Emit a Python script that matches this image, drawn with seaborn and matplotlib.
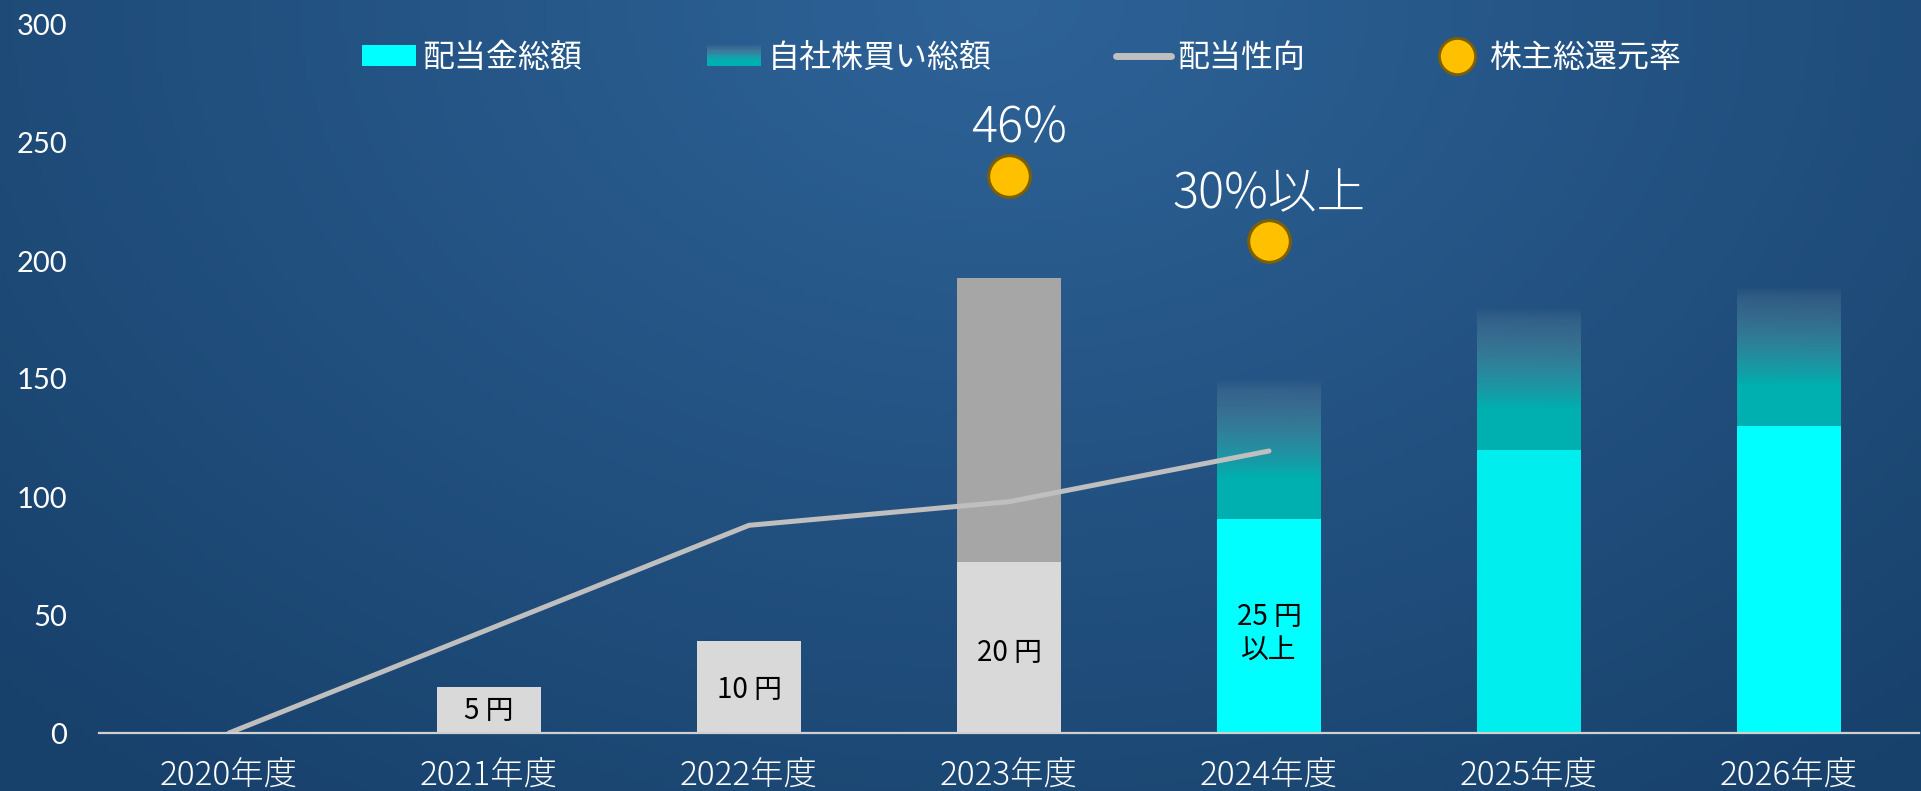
import numpy as np
import pandas as pd
import seaborn as sns
import matplotlib.pyplot as plt
from matplotlib.patches import Rectangle, Patch
from matplotlib.lines import Line2D
from matplotlib.legend_handler import HandlerBase
from matplotlib.colors import to_rgb

# Data
years = ['2020年度', '2021年度', '2022年度', '2023年度', '2024年度', '2025年度', '2026年度']
dividend_total = [0, 19.5, 39, 72.5, 90.5, 120, 130]
return_total = [0, 0, 0, 193, 149.5, 180, 188.5]
payout_ratio = [0, 44, 88, 98, 119.5]
total_return_rate = [236, 208.5]
total_return_labels = ['46%', '30%以上']
dividend_labels = ['', '5 円', '10 円', '20 円', '25 円\n以上', '', '']

div_colors = ['#D9D9D9', '#D9D9D9', '#D9D9D9', '#D9D9D9', '#00FFFF', '#00EEEE', '#00FFFF']
top_colors = ['#A6A6A6', '#A6A6A6', '#A6A6A6', '#A6A6A6', '#00B0B0', '#00B0B0', '#00B0B0']
TEAL = '#00B0B0'
FADE = '#8096A8'

sns.set_style('white')
plt.rcParams['font.family'] = ['Noto Sans CJK JP', 'DejaVu Sans']


def fade_rgba(t):
    # solid teal at the bottom, fading to a pale grey-blue and transparent at the top
    t = np.asarray(t, dtype=float)
    m = np.clip((t - 0.3) / 0.7, 0, 1)
    rgb = np.array(to_rgb(TEAL))[None, :] * (1 - m[:, None]) + np.array(to_rgb(FADE))[None, :] * m[:, None]
    a = np.clip(1 - 0.88 * m ** 0.9, 0, 1)
    a = a * np.clip((1 - t) / 0.08, 0, 1) ** 0.5
    return np.concatenate([rgb, a[:, None]], axis=1)


fig = plt.figure(figsize=(19.21, 7.91), dpi=100)

# background gradient
bg = fig.add_axes([0, 0, 1, 1], zorder=-10)
yy, xx = np.mgrid[0:1:200j, 0:1:400j]
d = np.sqrt(((xx - 0.52) / 0.75) ** 2 + ((yy - 0.0) / 1.3) ** 2)
d = np.clip(d, 0, 1)[..., None]
c_in = np.array(to_rgb('#2E6398'))
c_out = np.array(to_rgb('#17406A'))
bg.imshow(c_in * (1 - d) + c_out * d, aspect='auto', extent=[0, 1, 0, 1], origin='upper')
bg.axis('off')

ax = fig.add_axes([99 / 1921, 58 / 791, 1820 / 1921, 708 / 791])
ax.patch.set_alpha(0)

df = pd.DataFrame({'year': years, 'dividend': dividend_total, 'total': return_total})

# stacked bars: total first, dividend on top of it
sns.barplot(data=df, x='year', y='total', hue='year', palette=top_colors, width=0.4,
            saturation=1, legend=False, ax=ax, zorder=2, linewidth=0, edgecolor='none')
n = len(years)
for i, p in enumerate(ax.patches[:n]):
    if top_colors[i] == TEAL and p.get_height() > 0:
        p.set_facecolor('none')
        x0, w = p.get_x(), p.get_width()
        y0, h = dividend_total[i], p.get_height() - dividend_total[i]
        img = fade_rgba(np.linspace(0, 1, 256))[:, None, :]
        im = ax.imshow(img, extent=[x0, x0 + w, y0, y0 + h], origin='lower',
                       aspect='auto', zorder=2, interpolation='bilinear')
        im.set_clip_path(p)

sns.barplot(data=df, x='year', y='dividend', hue='year', palette=div_colors, width=0.4,
            saturation=1, legend=False, ax=ax, zorder=3, linewidth=0, edgecolor='none')

# payout ratio line
sns.lineplot(x=years[:len(payout_ratio)], y=payout_ratio, color='#BFBFBF', linewidth=3.6,
             ax=ax, zorder=4, solid_capstyle='round', sort=False)

# total shareholder return points
sns.scatterplot(x=years[3:5], y=total_return_rate, color='#FFC000', edgecolor='#7F6000',
                linewidth=2.2, s=900, ax=ax, zorder=5)
for i, (v, lab) in enumerate(zip(total_return_rate, total_return_labels)):
    ax.text(3 + i + (0.04 if i == 0 else 0.0), v + 14, lab, ha='center', va='baseline',
            fontsize=35, color='white', fontweight='light', zorder=6)

# labels inside dividend bars
for i, lab in enumerate(dividend_labels):
    if lab:
        ypos = dividend_total[i] * 0.47 if i < 4 else 42
        ax.text(i, ypos, lab, ha='center', va='center', fontsize=20, color='black',
                zorder=6, linespacing=1.2)

ax.set_xlim(-0.5, 6.5)
ax.set_ylim(0, 300)
ax.set_yticks([0, 50, 100, 150, 200, 250, 300])
ax.set_xlabel('')
ax.set_ylabel('')
for s in ['top', 'right', 'left']:
    ax.spines[s].set_visible(False)
ax.spines['bottom'].set_color('#D0D0D0')
ax.spines['bottom'].set_linewidth(1.6)
ax.spines['bottom'].set_zorder(7)
ax.tick_params(axis='y', length=0, pad=23, labelsize=21, labelcolor='white')
ax.tick_params(axis='x', length=0, pad=19, labelsize=24, labelcolor='white')
for lbl in ax.get_yticklabels():
    lbl.set_fontfamily(['Lato', 'DejaVu Sans'])
for lbl in ax.get_xticklabels():
    lbl.set_fontweight('light')
ax.grid(False)


class GradientHandler(HandlerBase):
    def create_artists(self, legend, orig_handle, xdescent, ydescent, width, height, fontsize, trans):
        arts = []
        k = 12
        cols = fade_rgba((np.arange(k) + 0.5) / k)
        for j in range(k):
            r = Rectangle((-xdescent, -ydescent + height * j / k), width, height / k,
                          facecolor=cols[j], lw=0, transform=trans)
            arts.append(r)
        return arts


h1 = Patch(facecolor='#00FFFF', edgecolor='none')
h2 = Patch(facecolor=TEAL, edgecolor='none')
h3 = Line2D([], [], color='#BFBFBF', linewidth=5, solid_capstyle='round')
h4 = Line2D([], [], marker='o', linestyle='none', markersize=26, markerfacecolor='#FFC000',
            markeredgecolor='#7F6000', markeredgewidth=2)
fig.legend([h1, h2, h3, h4], ['配当金総額', '自社株買い総額', '配当性向', '株主総還元率'],
           handler_map={h2: GradientHandler()}, ncol=4, loc='center',
           bbox_to_anchor=(0.532, 0.927), frameon=False, fontsize=23, labelcolor='white',
           columnspacing=3.9, handletextpad=0.2, handlelength=1.7, handleheight=0.6)

fig.savefig('out.png', dpi=100)
